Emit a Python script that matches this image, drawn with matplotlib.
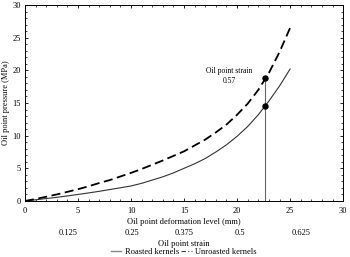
import matplotlib
matplotlib.use("Agg")
import matplotlib.pyplot as plt
from matplotlib.lines import Line2D
from matplotlib.ticker import MultipleLocator

plt.rcParams['font.family'] = ['Liberation Serif', 'DejaVu Serif']

deformation = list(range(0, 26))
roasted = [0, 0.18, 0.37, 0.56, 0.77, 1.0, 1.23, 1.48, 1.75, 2.02, 2.3, 2.7, 3.2,
           3.7, 4.3, 5.0, 5.7, 6.5, 7.5, 8.6, 9.9, 11.4, 13.2, 15.3, 17.6, 20.2]
unroasted = [0, 0.3, 0.65, 1.0, 1.4, 1.8, 2.25, 2.75, 3.2, 3.75, 4.3, 4.9, 5.55,
             6.2, 6.9, 7.6, 8.5, 9.4, 10.5, 11.7, 13.2, 14.9, 17.0, 19.6, 22.8, 26.5]
oil_point_x = 22.65
oil_point_roasted = 14.6
oil_point_unroasted = 18.9
oil_point_strain = "0.57"
strain_labels = ["0.125", "0.25", "0.375", "0.5", "0.625"]
strain_label_pos = [4.1, 10.1, 15.0, 20.3, 26.0]

fig = plt.figure(figsize=(3.5, 2.57), dpi=100)
ax = fig.add_axes([0.0714, 0.218, 0.909, 0.7625])

ax.plot(deformation, roasted, color='#333333', lw=0.8)
ax.plot(deformation, unroasted, color='black', lw=1.3, dashes=(5, 2.5))
ax.plot([oil_point_x, oil_point_x], [0, oil_point_unroasted], color='#666666', lw=0.8)
ax.plot([oil_point_x, oil_point_x], [oil_point_roasted, oil_point_unroasted], 'o',
        color='black', ms=3.6)
ax.text(19.3, 17.8, "Oil point strain\n" + oil_point_strain, fontsize=5.5,
        ha='center', va='bottom', linespacing=1.35)

ax.set_xlim(0, 30)
ax.set_ylim(0, 30)
ax.xaxis.set_major_locator(MultipleLocator(5))
ax.xaxis.set_minor_locator(MultipleLocator(1))
ax.yaxis.set_major_locator(MultipleLocator(5))
ax.yaxis.set_minor_locator(MultipleLocator(1))
ax.tick_params(which='both', direction='in', top=True, right=True, labelsize=6)
ax.tick_params(axis='x', pad=4.5)
ax.tick_params(axis='y', pad=3)
ax.tick_params(which='major', length=2.5, width=0.6)
ax.tick_params(which='minor', length=1.2, width=0.5)
for s in ax.spines.values():
    s.set_linewidth(0.7)

ax.set_ylabel("Oil point pressure (MPa)", fontsize=6, labelpad=2)
ax.set_xlabel("Oil point deformation level (mm)", fontsize=6, labelpad=2)

for lbl, pos in zip(strain_labels, strain_label_pos):
    ax.text(pos, -0.145, lbl, transform=ax.get_xaxis_transform(), fontsize=6,
            ha='center', va='top')
ax.text(0.5, -0.2, "Oil point strain", transform=ax.transAxes, fontsize=6,
        ha='center', va='top')

handles = [Line2D([], [], color='#888888', lw=1.0),
           Line2D([], [], color='#444444', lw=0.8, dashes=(4, 2, 1, 2))]
fig.legend(handles, ["Roasted kernels", "Unroasted kernels"], loc='lower center',
           bbox_to_anchor=(0.525, -0.025), ncol=2, frameon=False, fontsize=6,
           handlelength=1.3, handletextpad=0.4, columnspacing=0.3)

fig.savefig("out.png", dpi=100)
